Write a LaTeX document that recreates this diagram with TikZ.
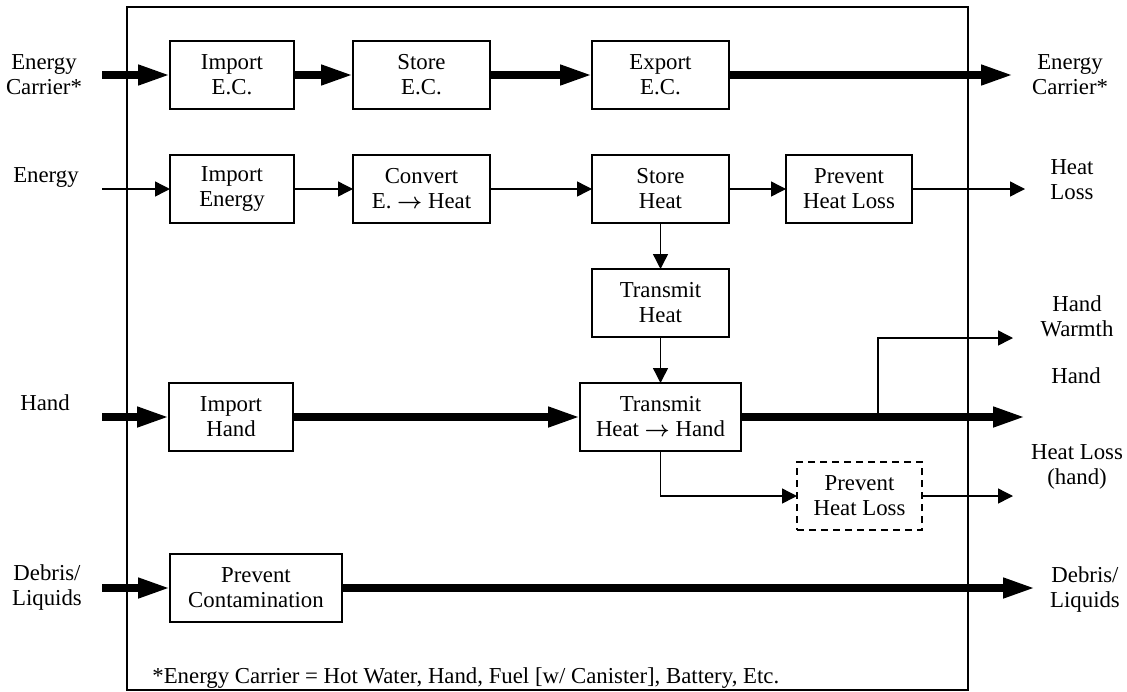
\documentclass[tikz,border=0pt]{standalone}
\usepackage{fontspec}
\setmainfont{Liberation Serif}
\usetikzlibrary{arrows.meta,positioning}

\newcommand{\toarrow}{~{\boldmath$\rightarrow$}~}

\begin{document}
\begin{tikzpicture}[x=0.5pt, y=-0.5pt, font=\fontsize{11.4}{12.5}\selectfont,
        box/.style={draw, line width=0.75pt, rectangle, align=center, minimum height=34pt, minimum width=68.5pt, inner sep=0pt, outer sep=0pt},
        dbox/.style={box, dash pattern=on 3.5pt off 2.5pt},
        lbl/.style={align=center, inner sep=0pt},
        flow/.style={line width=0.7pt, -{Triangle[length=7.5pt,width=7.5pt]}},
        bigflow/.style={line width=3.6pt, -{Triangle[length=16pt,width=9.5pt]}}]
        \useasboundingbox (0,0) rectangle (1127,691);

        % System boundary
        \draw[line width=0.75pt] (127,7) rectangle (968,690);

        % Energy carrier row
        \node[box, minimum width=62pt] (impec) at (232,75) {Import\\E.C.};
        \node[box, right=29.5pt of impec] (stec) {Store\\E.C.};
        \node[box, right=51pt of stec] (expec) {Export\\E.C.};

        % Energy row
        \node[box, minimum width=62pt, below=23pt of impec] (impen) {Import\\Energy};
        \node[box, below=23pt of stec] (conv) {Convert\\E.\toarrow Heat};
        \node[box, below=23pt of expec] (stheat) {Store\\Heat};
        \node[box, minimum width=63pt, right=28.5pt of stheat] (prevloss) {Prevent\\Heat Loss};
        \node[box, below=23pt of stheat] (trheat) {Transmit\\Heat};

        % Hand row
        \node[box, minimum width=80.5pt, below=23pt of trheat] (trhand) {Transmit\\Heat\toarrow Hand};
        \node[box, minimum width=62pt, left=143.5pt of trhand] (imphand) {Import\\Hand};
        \node[dbox, minimum width=62.5pt, below right=5.5pt and 28pt of trhand] (prevhand) {Prevent\\Heat Loss};

        % Debris row
        \node[box, minimum width=86pt] (contam) at (256,588) {Prevent\\Contamination};

        % free ends of the flows
        \coordinate (ecin) at (102,75);
        \coordinate (ecout) at (1013,75);
        \coordinate (enin) at (102,189);
        \coordinate (lossout) at (1025,189);
        \coordinate (handin) at (102,417);
        \coordinate (handout) at (1025,417);
        \coordinate (split) at (878,417);
        \coordinate (warmout) at (1013,338);
        \coordinate (hlossout) at (1013,496);
        \coordinate (debin) at (102,588);
        \coordinate (debout) at (1035,588);

        % Labels outside the boundary
        \node[lbl] (lecin) at (44,75) {Energy\\Carrier*};
        \node[lbl, anchor=base] (lenin) at (46,182) {Energy};
        \node[lbl, anchor=base] (lhandin) at (45,410) {Hand};
        \node[lbl] (ldebin) at (47,588) {Debris/\\Liquids};
        \node[lbl] (lecout) at (1070,75) {Energy\\Carrier*};
        \node[lbl] (llossout) at (1072,180) {Heat\\Loss};
        \node[lbl] (lwarm) at (1077,316) {Hand\\Warmth};
        \node[lbl, anchor=base] (lhandout) at (1076,383) {Hand};
        \node[lbl] (lhloss) at (1077,467) {Heat Loss\\(hand)};
        \node[lbl] (ldebout) at (1085,590) {Debris/\\Liquids};

        % Flows
        \draw[bigflow] (ecin) -- (impec);
        \draw[bigflow] (impec) -- (stec);
        \draw[bigflow] (stec) -- (expec);
        \draw[bigflow] (expec) -- (ecout);

        \draw[flow] (enin) -- (impen);
        \draw[flow] (impen) -- (conv);
        \draw[flow] (conv) -- (stheat);
        \draw[flow] (stheat) -- (prevloss);
        \draw[flow] (prevloss) -- (lossout);
        \draw[flow] (stheat) -- (trheat);
        \draw[flow] (trheat) -- (trhand);

        \draw[bigflow] (handin) -- (imphand);
        \draw[bigflow] (imphand) -- (trhand);
        \draw[bigflow] (trhand) -- (handout);
        \draw[flow] (split) |- (warmout);
        \draw[flow] (trhand.south) |- (prevhand.west);
        \draw[flow] (prevhand) -- (hlossout);

        \draw[bigflow] (debin) -- (contam);
        \draw[bigflow] (contam) -- (debout);

        % Footnote
        \node[anchor=base west, inner sep=0pt] (note) at (152,683) {*Energy Carrier = Hot Water, Hand, Fuel [w/ Canister], Battery, Etc.};
\end{tikzpicture}
\end{document}
